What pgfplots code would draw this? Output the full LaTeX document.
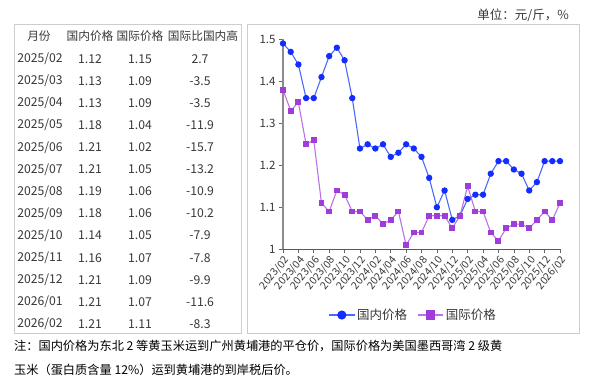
\documentclass[border=0pt]{standalone}
\usepackage{pgfplots}
\pgfplotsset{compat=1.18}
\usepackage{fontspec}
\setmainfont{Noto Sans CJK SC}
\definecolor{bline}{RGB}{75,105,250}
\definecolor{bmark}{RGB}{20,45,255}
\definecolor{pline}{RGB}{185,115,230}
\definecolor{pmark}{RGB}{160,60,215}
\definecolor{panel}{RGB}{205,205,205}
\definecolor{txt}{RGB}{55,55,55}

\pgfplotstableread{
x dom intl
0 1.49 1.38
1 1.47 1.33
2 1.44 1.35
3 1.36 1.25
4 1.36 1.26
5 1.41 1.11
6 1.46 1.09
7 1.48 1.14
8 1.45 1.13
9 1.36 1.09
10 1.24 1.09
11 1.25 1.07
12 1.24 1.08
13 1.25 1.06
14 1.22 1.07
15 1.23 1.09
16 1.25 1.01
17 1.24 1.04
18 1.22 1.04
19 1.17 1.08
20 1.10 1.08
21 1.14 1.08
22 1.07 1.05
23 1.08 1.08
24 1.12 1.15
25 1.13 1.09
26 1.13 1.09
27 1.18 1.04
28 1.21 1.02
29 1.21 1.05
30 1.19 1.06
31 1.18 1.06
32 1.14 1.05
33 1.16 1.07
34 1.21 1.09
35 1.21 1.07
36 1.21 1.11
}\pricedata

\begin{document}
\begin{tikzpicture}
\begin{scope}[x=1pt,y=1pt]
\path (0,0) rectangle (592,381);
\draw[panel, line width=0.8pt] (14,357) rectangle (241.5,48);
\draw[panel, line width=0.8pt] (247,357) rectangle (579,48);
\begin{scope}[every node/.style={font=\fontsize{11.7}{12}\selectfont, text=txt, inner sep=0pt}]
\node at (39,345) {月份};
\node at (90,345) {国内价格};
\node at (140,345) {国际价格};
\node at (203,345) {国际比国内高};
\foreach \yy/\mm/\a/\b/\c [count=\i from 0] in {2025/02/1.12/1.15/2.7, 2025/03/1.13/1.09/-3.5, 2025/04/1.13/1.09/-3.5, 2025/05/1.18/1.04/-11.9, 2025/06/1.21/1.02/-15.7, 2025/07/1.21/1.05/-13.2, 2025/08/1.19/1.06/-10.9, 2025/09/1.18/1.06/-10.2, 2025/10/1.14/1.05/-7.9, 2025/11/1.16/1.07/-7.8, 2025/12/1.21/1.09/-9.9, 2026/01/1.21/1.07/-11.6, 2026/02/1.21/1.11/-8.3}{
  \pgfmathsetmacro{\ry}{381-59-\i*22.08}
  \node at (40,\ry) {\fontsize{12.2}{12}\selectfont\yy/\mm};
  \node at (90,\ry) {\fontsize{12.2}{12}\selectfont\a};
  \node at (140,\ry) {\fontsize{12.2}{12}\selectfont\b};
  \node at (200,\ry) {\fontsize{12.2}{12}\selectfont\c};
}
\end{scope}
\node[anchor=east, inner sep=0pt, font=\fontsize{12.5}{13}\selectfont, text=txt] at (569,366) {单位：元/斤，\%};
\node[anchor=west, inner sep=0pt, font=\fontsize{12.2}{13}\selectfont] at (14,35) {注：国内价格为东北 2 等黄玉米运到广州黄埔港的平仓价，国际价格为美国墨西哥湾 2 级黄};
\node[anchor=west, inner sep=0pt, font=\fontsize{12.2}{13}\selectfont] at (14,11) {玉米（蛋白质含量 12\%）运到黄埔港的到岸税后价。};
\end{scope}

\begin{axis}[
  at={(283pt,131.7pt)}, anchor=south west,
  scale only axis, width=277pt, height=210pt,
  xmin=0, xmax=36, ymin=1, ymax=1.5,
  axis lines*=left,
  x axis line style={black!65, line width=0.6pt},
  y axis line style={black!45, line width=1.3pt},
  tick align=outside, major tick length=4pt,
  tick style={black!60, line width=0.6pt},
  xtick={0,2,...,36},
  xticklabels={2023/02,2023/04,2023/06,2023/08,2023/10,2023/12,2024/02,2024/04,2024/06,2024/08,2024/10,2024/12,2025/02,2025/04,2025/06,2025/08,2025/10,2025/12,2026/02},
  ytick={1,1.1,1.2,1.3,1.4,1.5},
  yticklabels={1,1.1,1.2,1.3,1.4,1.5},
  xticklabel style={rotate=50, anchor=north east, font=\fontsize{10.5}{10.5}\selectfont, text=txt, inner sep=1pt},
  yticklabel style={font=\fontsize{11.5}{12}\selectfont, text=txt},
  legend columns=2,
  legend style={at={(0.47,-0.313)}, anchor=center, draw=none, fill=none, font=\fontsize{12.5}{12.5}\selectfont, text=txt, /tikz/every even column/.append style={column sep=8pt}},
  legend image code/.code={\draw[mark repeat=2,mark phase=2,mark size=4pt] plot coordinates {(0cm,0cm)(0.45cm,0cm)(0.9cm,0cm)};},
]
\addplot[bline, line width=1.1pt, mark=*, mark size=2.6pt, mark options={fill=bmark, draw=bmark}] table[x=x, y=dom] {\pricedata};
\addlegendentry{国内价格}
\addplot[pline, line width=1.1pt, mark=square*, mark size=2.4pt, mark options={fill=pmark, draw=pmark}] table[x=x, y=intl] {\pricedata};
\addlegendentry{国际价格}
\end{axis}
\end{tikzpicture}
\end{document}
